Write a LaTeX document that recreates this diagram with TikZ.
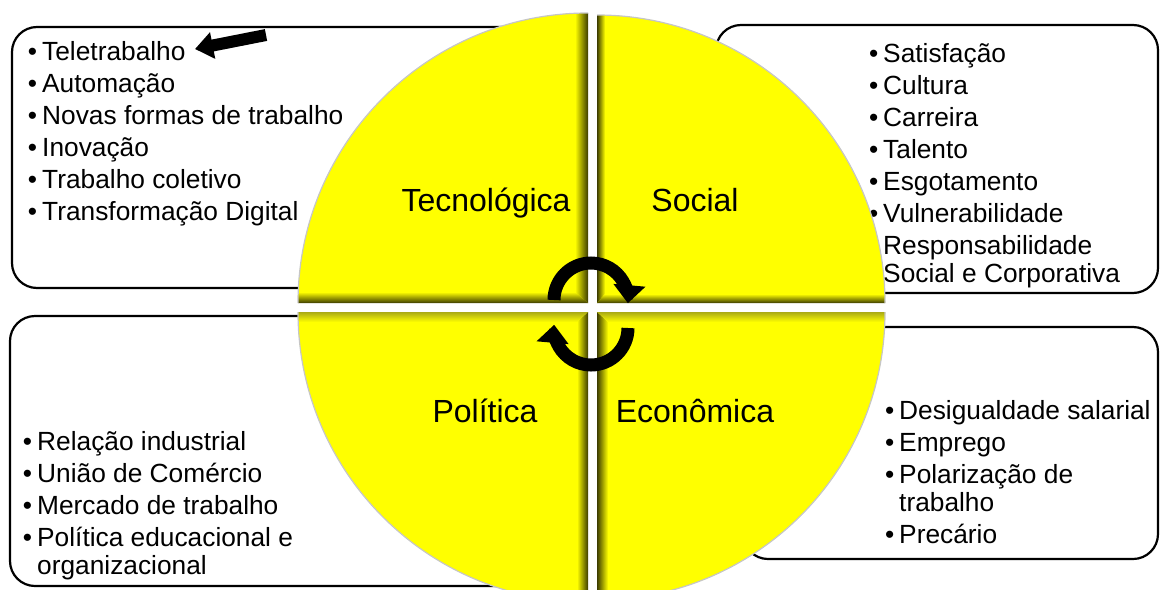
\documentclass[tikz,border=0pt]{standalone}
\usepackage{fontspec}
\setmainfont{Liberation Sans}
\usetikzlibrary{arrows.meta}
\definecolor{quadyellow}{RGB}{255,255,0}
\definecolor{bevel}{RGB}{60,60,0}
\definecolor{softbevel}{RGB}{170,170,20}
% bullet hanging in front of the text column
\newcommand{\itm}{\llap{•\hspace{5pt}}}
\newcommand{\firstline}{\rule{0pt}{21pt}}
\tikzset{
  listbox/.style={draw=black, line width=2.2pt, rounded corners=25pt},
  listtext/.style={anchor=north west, inner sep=0pt, align=left,
                   font=\fontsize{26.3}{28.5}\selectfont},
  quad/.style={fill=quadyellow},
  rim/.style={draw=gray!45, line width=1.2pt},
  dimlabel/.style={anchor=base, inner sep=0pt, font=\fontsize{32}{36}\selectfont},
  cyclearrow/.style={line width=13pt, -{Triangle[width=31pt,length=18pt]}},
  pointer/.style={line width=12pt, -{Triangle[width=26pt,length=18pt]}},
}
\begin{document}
\begin{tikzpicture}[x=1pt,y=1pt]
\useasboundingbox (0,0) rectangle (1161,-589);
\clip (0,0) rectangle (1161,-589);

% ---- frames behind the wheel ----
\draw[listbox] (12,-27) rectangle (585,-288);
\draw[listbox] (716,-25) rectangle (1158,-293);
\draw[listbox] (10,-316) rectangle (585,-586);
\draw[listbox] (743,-327) rectangle (1158,-559);

% ---- item lists ----
\node[listtext] (techlist) at (42,-39) {\firstline\itm Teletrabalho\\[3.5pt]
  \itm Automação\\[3.5pt]
  \itm Novas formas de trabalho\\[3.5pt]
  \itm Inovação\\[3.5pt]
  \itm Trabalho coletivo\\[3.5pt]
  \itm Transformação Digital};
\node[listtext] (sociallist) at (883,-41) {\firstline\itm Satisfação\\[3.5pt]
  \itm Cultura\\[3.5pt]
  \itm Carreira\\[3.5pt]
  \itm Talento\\[3.5pt]
  \itm Esgotamento\\[3.5pt]
  \itm Vulnerabilidade\\[3.5pt]
  \itm Responsabilidade\\
  Social e Corporativa};
\node[listtext] (politlist) at (37,-429) {\firstline\itm Relação industrial\\[3.5pt]
  \itm União de Comércio\\[3.5pt]
  \itm Mercado de trabalho\\[3.5pt]
  \itm Política educacional e\\
  organizacional};
\node[listtext] (econlist) at (899,-398) {\firstline\itm Desigualdade salarial\\[3.5pt]
  \itm Emprego\\[3.5pt]
  \itm Polarização de\\
  trabalho\\[3.5pt]
  \itm Precário};

% ---- wheel: four bevelled quarter discs ----
% upper left
\begin{scope}
  \clip (588,-303) -- ++(180:290) arc[start angle=180,end angle=90,radius=290] -- cycle;
  \fill[quad] (290,-5) rectangle (588,-303);
  \shade[left color=quadyellow, right color=bevel]
    (575,-5) -- (588,-5) -- (588,-303) -- (575,-292) -- cycle;
  \shade[top color=quadyellow, bottom color=bevel]
    (290,-292) -- (575,-292) -- (588,-303) -- (290,-303) -- cycle;
\end{scope}
\draw[rim] (298,-303) arc[start angle=180,end angle=90,radius=290];
% upper right
\begin{scope}
  \clip (597,-303) -- ++(90:288) arc[start angle=90,end angle=0,radius=288] -- cycle;
  \fill[quad] (597,-5) rectangle (890,-303);
  \shade[left color=bevel, right color=quadyellow]
    (597,-5) -- (605,-5) -- (605,-294) -- (597,-303) -- cycle;
  \shade[top color=quadyellow, bottom color=bevel]
    (597,-303) -- (605,-294) -- (890,-294) -- (890,-303) -- cycle;
\end{scope}
\draw[rim] (597,-15) arc[start angle=90,end angle=0,radius=288];
% lower left
\begin{scope}
  \clip (588,-312) -- ++(180:290) arc[start angle=180,end angle=270,radius=290] -- cycle;
  \fill[quad] (290,-312) rectangle (588,-610);
  \shade[left color=quadyellow, right color=bevel]
    (577,-322) -- (588,-312) -- (588,-610) -- (577,-610) -- cycle;
  \shade[top color=softbevel, bottom color=quadyellow]
    (290,-312) -- (588,-312) -- (577,-322) -- (290,-322) -- cycle;
\end{scope}
\draw[rim] (298,-312) arc[start angle=180,end angle=270,radius=290];
% lower right
\begin{scope}
  \clip (597,-312) -- ++(270:288) arc[start angle=270,end angle=360,radius=288] -- cycle;
  \fill[quad] (597,-312) rectangle (890,-610);
  \shade[left color=bevel, right color=quadyellow]
    (597,-312) -- (608,-322) -- (608,-610) -- (597,-610) -- cycle;
  \shade[top color=softbevel, bottom color=quadyellow]
    (597,-312) -- (890,-312) -- (890,-322) -- (608,-322) -- cycle;
\end{scope}
\draw[rim] (597,-600) arc[start angle=270,end angle=360,radius=288];

% ---- dimension names ----
\node[dimlabel] (tech)   at (486,-211) {Tecnológica};
\node[dimlabel] (social) at (695,-211) {Social};
\node[dimlabel] (polit)  at (485,-422) {Política};
\node[dimlabel] (econ)   at (695,-422) {Econômica};

% ---- cycle arrows in the middle ----
\coordinate (upperhub) at (591,-300);
\coordinate (lowerhub) at (591,-328);
\draw[cyclearrow] (upperhub) ++(180:37) arc[start angle=180,end angle=-5,radius=37];
\draw[cyclearrow] (lowerhub) ++(0:37) arc[start angle=0,end angle=-185,radius=37];

% ---- pointer to the first technological item ----
\coordinate (ptrTail) at (266,-35);
\coordinate (ptrTip) at (195,-49);
\draw[pointer] (ptrTail) -- (ptrTip);
\end{tikzpicture}
\end{document}
